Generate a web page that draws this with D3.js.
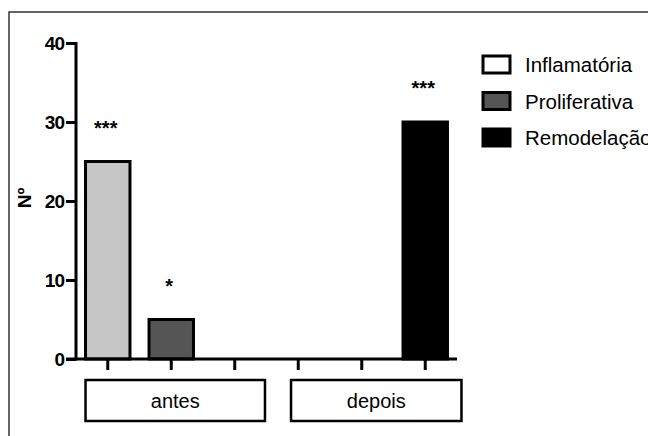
<!DOCTYPE html>
<html>
<head>
<meta charset="utf-8">
<script src="https://cdn.jsdelivr.net/npm/d3@7"></script>
<style>
  body { margin: 0; background: #fff; }
  svg { font-family: "Liberation Sans", Arial, sans-serif; }
</style>
</head>
<body>
<div id="vis"></div>
<script>
// datos
const grupos = ["antes", "depois"];
const fases = ["Inflamatória", "Proliferativa", "Remodelação"];
const valoresAntes = [25, 5, 0];
const valoresDepois = [0, 0, 30];
const signifAntes = ["***", "*", ""];
const signifDepois = ["", "", "***"];
const ticksY = [0, 10, 20, 30, 40];

const WIDTH = 648;
const HEIGHT = 436;

const colorBarra = d3.scaleOrdinal().domain(fases).range(["#c6c6c6", "#555555", "#000000"]);
const colorLeyenda = d3.scaleOrdinal().domain(fases).range(["#ffffff", "#555555", "#000000"]);

const SVG = d3.select("#vis").append("svg")
    .attr("width", WIDTH).attr("height", HEIGHT);

// marco
SVG.append("rect")
    .attr("x", 9).attr("y", 12)
    .attr("width", 700).attr("height", 500)
    .attr("fill", "none").attr("stroke", "#333").attr("stroke-width", 1.5);

// armar los datos: 6 posiciones
const datos = [];
grupos.forEach((g, gi) => {
    const vals = gi == 0 ? valoresAntes : valoresDepois;
    const sig = gi == 0 ? signifAntes : signifDepois;
    fases.forEach((f, fi) => {
        datos.push({ grupo: g, fase: f, valor: vals[fi], sig: sig[fi], key: g + "-" + f });
    });
});

// Escala X
const x = d3.scaleBand()
    .domain(datos.map(d => d.key))
    .range([76, 457])
    .paddingInner(0.3)
    .paddingOuter(0.15);

// Escala Y
const y = d3.scaleLinear()
    .domain([0, 40])
    .range([359, 43]);

// barras
SVG.append("g").selectAll("rect")
    .data(datos.filter(d => d.valor > 0))
    .join("rect")
    .attr("x", d => x(d.key))
    .attr("y", d => y(d.valor))
    .attr("width", x.bandwidth())
    .attr("height", d => y(0) - y(d.valor))
    .attr("fill", d => colorBarra(d.fase))
    .attr("stroke", "#000")
    .attr("stroke-width", 3);

// asteriscos
SVG.append("g").selectAll("text")
    .data(datos.filter(d => d.sig != ""))
    .join("text")
    .attr("x", d => x(d.key) + x.bandwidth() / 2 - 2)
    .attr("y", d => y(d.valor) - 27)
    .attr("text-anchor", "middle")
    .attr("font-size", 20)
    .attr("font-weight", "bold")
    .text(d => d.sig);

// Eje Y
const ejeY = SVG.append("g")
    .attr("transform", "translate(76,0)")
    .call(d3.axisLeft(y).tickValues(ticksY).tickSizeInner(10).tickSizeOuter(0).tickPadding(2));
ejeY.select(".domain").attr("stroke-width", 3).attr("d", `M0,${y(40) - 1}V${y(0) + 1.5}`);
ejeY.selectAll(".tick line").attr("stroke-width", 3);
ejeY.selectAll(".tick text")
    .attr("font-size", 19).attr("font-weight", "bold")
    .attr("font-family", "'Liberation Sans', Arial, sans-serif")
    .attr("fill", "#000")
    .attr("letter-spacing", -1)
    .attr("dy", "0.34em");

// Eje X
const ejeX = SVG.append("g")
    .attr("transform", `translate(0,${y(0)})`)
    .call(d3.axisBottom(x).tickSizeInner(11).tickSizeOuter(0).tickFormat(""));
ejeX.select(".domain").attr("stroke-width", 3).attr("d", "M66,0H457");
ejeX.selectAll(".tick line").attr("stroke-width", 3);

// cajas de grupo
const cajas = [
    { grupo: "antes", x0: x("antes-Inflamatória"), x1: x("antes-Remodelação") + x.bandwidth() + 8 },
    { grupo: "depois", x0: x("depois-Inflamatória") + 15, x1: x("depois-Remodelação") + x.bandwidth() + 14 }
];
const gCajas = SVG.append("g");
gCajas.selectAll("rect")
    .data(cajas)
    .join("rect")
    .attr("x", d => d.x0)
    .attr("y", 380)
    .attr("width", d => d.x1 - d.x0)
    .attr("height", 41)
    .attr("fill", "#fff")
    .attr("stroke", "#000")
    .attr("stroke-width", 2.5);
gCajas.selectAll("text")
    .data(cajas)
    .join("text")
    .attr("x", d => (d.x0 + d.x1) / 2)
    .attr("y", 408)
    .attr("text-anchor", "middle")
    .attr("font-size", 20)
    .text(d => d.grupo);

// titulo eje Y
SVG.append("text")
    .attr("transform", "translate(31,198) rotate(-90)")
    .attr("text-anchor", "middle")
    .attr("font-size", 19)
    .attr("font-weight", "bold")
    .text("Nº");

// Leyenda
const leyenda = SVG.append("g").selectAll("g")
    .data(fases)
    .join("g")
    .attr("transform", (d, i) => `translate(483,${56 + i * 36.5})`);
leyenda.append("rect")
    .attr("width", 27).attr("height", 17)
    .attr("fill", d => colorLeyenda(d))
    .attr("stroke", "#000").attr("stroke-width", 3);
leyenda.append("text")
    .attr("x", 42).attr("y", 16)
    .attr("font-size", 20.5)
    .text(d => d);
</script>
</body>
</html>
